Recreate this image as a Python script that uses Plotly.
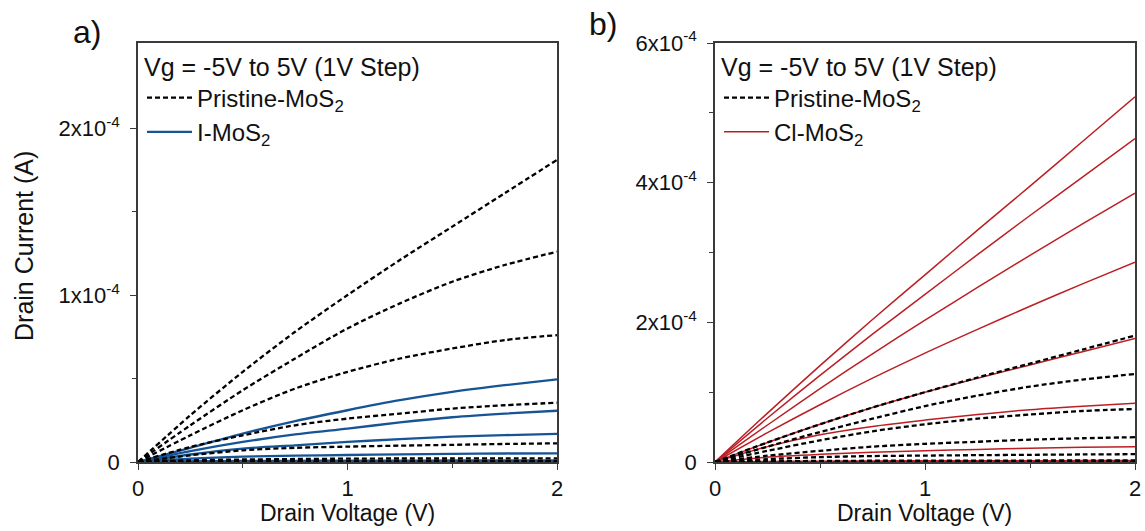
import plotly.graph_objects as go
from plotly.subplots import make_subplots

# Drain voltage sample points (V)
vd = [0, 0.25, 0.5, 0.75, 1.0, 1.25, 1.5, 1.75, 2.0]

# Pristine MoS2 drain current (units of 1e-4 A), Vg = 5V ... -5V
pristine_5 = [0, 0.28, 0.54, 0.78, 1.00, 1.21, 1.41, 1.61, 1.81]
pristine_4 = [0, 0.22, 0.43, 0.62, 0.80, 0.95, 1.08, 1.18, 1.26]
pristine_3 = [0, 0.16, 0.31, 0.44, 0.54, 0.62, 0.68, 0.73, 0.76]
pristine_2 = [0, 0.09, 0.16, 0.22, 0.26, 0.29, 0.32, 0.34, 0.355]
pristine_1 = [0, 0.04, 0.07, 0.085, 0.092, 0.098, 0.103, 0.108, 0.112]
pristine_0 = [0, 0.010, 0.015, 0.018, 0.020, 0.021, 0.021, 0.022, 0.022]
pristine_m1 = [0, 0.002, 0.003, 0.004, 0.004, 0.004, 0.005, 0.005, 0.005]
pristine_m2 = [0, 0.001, 0.001, 0.001, 0.001, 0.001, 0.001, 0.001, 0.001]
pristine_m3 = [0, 0, 0, 0, 0, 0, 0, 0, 0]
pristine_m4 = [0, 0, 0, 0, 0, 0, 0, 0, 0]
pristine_m5 = [0, 0, 0, 0, 0, 0, 0, 0, 0]
pristine = [pristine_5, pristine_4, pristine_3, pristine_2, pristine_1, pristine_0,
            pristine_m1, pristine_m2, pristine_m3, pristine_m4, pristine_m5]

# I-MoS2 drain current (1e-4 A)
i_5 = [0, 0.085, 0.17, 0.245, 0.31, 0.37, 0.42, 0.46, 0.495]
i_4 = [0, 0.065, 0.12, 0.165, 0.20, 0.237, 0.268, 0.29, 0.307]
i_3 = [0, 0.045, 0.08, 0.10, 0.12, 0.137, 0.152, 0.161, 0.168]
i_2 = [0, 0.02, 0.032, 0.038, 0.042, 0.046, 0.049, 0.051, 0.052]
i_1 = [0, 0.004, 0.006, 0.007, 0.008, 0.008, 0.009, 0.009, 0.009]
i_0 = [0, 0.001, 0.001, 0.001, 0.001, 0.001, 0.001, 0.001, 0.001]
i_m1 = [0, 0, 0, 0, 0, 0, 0, 0, 0]
i_m2 = [0, 0, 0, 0, 0, 0, 0, 0, 0]
i_m3 = [0, 0, 0, 0, 0, 0, 0, 0, 0]
i_m4 = [0, 0, 0, 0, 0, 0, 0, 0, 0]
i_m5 = [0, 0, 0, 0, 0, 0, 0, 0, 0]
i_mos2 = [i_5, i_4, i_3, i_2, i_1, i_0, i_m1, i_m2, i_m3, i_m4, i_m5]

# Cl-MoS2 drain current (1e-4 A)
cl_5 = [0, 0.70, 1.38, 2.04, 2.68, 3.32, 3.95, 4.59, 5.23]
cl_4 = [0, 0.63, 1.24, 1.83, 2.40, 2.97, 3.53, 4.08, 4.63]
cl_3 = [0, 0.53, 1.05, 1.55, 2.03, 2.50, 2.96, 3.41, 3.85]
cl_2 = [0, 0.42, 0.82, 1.20, 1.56, 1.90, 2.23, 2.55, 2.86]
cl_1 = [0, 0.28, 0.54, 0.78, 1.00, 1.20, 1.39, 1.58, 1.77]
cl_0 = [0, 0.22, 0.39, 0.51, 0.60, 0.68, 0.75, 0.80, 0.84]
cl_m1 = [0, 0.07, 0.11, 0.14, 0.16, 0.18, 0.196, 0.21, 0.22]
cl_m2 = [0, 0.008, 0.012, 0.015, 0.017, 0.018, 0.019, 0.02, 0.02]
cl_m3 = [0, 0.001, 0.002, 0.002, 0.002, 0.002, 0.002, 0.002, 0.002]
cl_m4 = [0, 0, 0, 0, 0, 0, 0, 0, 0]
cl_m5 = [0, 0, 0, 0, 0, 0, 0, 0, 0]
cl_mos2 = [cl_5, cl_4, cl_3, cl_2, cl_1, cl_0, cl_m1, cl_m2, cl_m3, cl_m4, cl_m5]

SCALE = 1e-4

x_ticks = [0, 1, 2]
x_ticklabels = ["0", "1", "2"]
ya_ticks = [0, 1e-4, 2e-4]
ya_ticklabels = ["0", "1x10<sup>-4</sup>", "2x10<sup>-4</sup>"]
yb_ticks = [0, 2e-4, 4e-4, 6e-4]
yb_ticklabels = ["0", "2x10<sup>-4</sup>", "4x10<sup>-4</sup>", "6x10<sup>-4</sup>"]

FONT = "Arial, Liberation Sans, sans-serif"
BLUE = "#165496"
RED = "#bb1f24"
AXC = "#3a3a3a"
TXT = "#111111"

W, H = 1145, 531
# plot area in pixels: x 138..1135, y 43..462
ML, MR, MT, MB = 138, 10, 43, 69
PW = W - ML - MR
PH = H - MT - MB


def px_x(px):
    return (px - ML) / PW


def px_y(py):
    return (H - MB - py) / PH


fig = make_subplots(rows=1, cols=2)


def add_group(col, curves, color, width, dash, name, legend, rank):
    for k, c in enumerate(curves):
        fig.add_trace(go.Scatter(
            x=vd, y=[v * SCALE for v in c], mode="lines",
            line=dict(color=color, width=width, dash=dash, shape="spline", smoothing=0.8),
            name=name, legend=legend, legendrank=rank,
            showlegend=(k == 0), hoverinfo="skip"),
            row=1, col=col)


# panel a
add_group(1, i_mos2, BLUE, 2.3, "solid", "I-MoS<sub>2</sub>", "legend", 2)
add_group(1, pristine, "black", 2.3, "5px,3px", "Pristine-MoS<sub>2</sub>", "legend", 1)
# panel b
add_group(2, cl_mos2, RED, 1.5, "solid", "Cl-MoS<sub>2</sub>", "legend2", 2)
add_group(2, pristine, "black", 2.3, "5px,3px", "Pristine-MoS<sub>2</sub>", "legend2", 1)

axis_common = dict(showline=True, linecolor=AXC, linewidth=1.5, mirror=True,
                   ticks="outside", ticklen=6, tickwidth=1.2, tickcolor=AXC,
                   showgrid=False, zeroline=False, automargin=False,
                   tickfont=dict(family=FONT, size=22, color=TXT))

fig.update_xaxes(**axis_common, range=[0, 2], tickvals=x_ticks, ticktext=x_ticklabels,
                 minor=dict(tickvals=[0.5, 1.5], ticks="outside", ticklen=4, tickcolor=AXC))
fig.update_xaxes(domain=[0, px_x(557)], row=1, col=1)
fig.update_xaxes(domain=[px_x(715), 1], row=1, col=2)

fig.update_yaxes(**axis_common, ticklabelstandoff=6)
fig.update_yaxes(range=[0, 2.51e-4], tickvals=ya_ticks, ticktext=ya_ticklabels,
                 minor=dict(tickvals=[0.5e-4, 1.5e-4], ticks="outside", ticklen=4, tickcolor=AXC),
                 domain=[0, 1], row=1, col=1)
fig.update_yaxes(range=[0, 6e-4], tickvals=yb_ticks, ticktext=yb_ticklabels,
                 minor=dict(tickvals=[1e-4, 3e-4, 5e-4], ticks="outside", ticklen=4, tickcolor=AXC),
                 domain=[0, 1], row=1, col=2)

leg_common = dict(bgcolor="rgba(0,0,0,0)", borderwidth=0, xanchor="left", yanchor="top",
                  xref="container", yref="container",
                  font=dict(family=FONT, size=24, color=TXT), traceorder="normal",
                  tracegroupgap=0, itemwidth=45)
leg_title = dict(text="Vg = -5V to 5V (1V Step)", side="top",
                 font=dict(family=FONT, size=25, color=TXT))


def ann(text, x, y, size, angle=0):
    return dict(text=text, x=px_x(x), y=px_y(y), xref="paper", yref="paper",
                showarrow=False, textangle=angle,
                font=dict(family=FONT, size=size, color=TXT),
                xanchor="center", yanchor="middle")


fig.update_layout(
    width=W, height=H,
    margin=dict(l=ML, r=MR, t=MT, b=MB, autoexpand=False),
    paper_bgcolor="white", plot_bgcolor="white",
    legend=dict(**leg_common, x=142 / W, y=(H - 43) / H, title=leg_title),
    legend2=dict(**leg_common, x=719 / W, y=(H - 43) / H, title=leg_title),
    annotations=[
        ann("a)", 87, 32, 32),
        ann("b)", 603, 24, 32),
        ann("Drain Voltage (V)", 347, 513, 23),
        ann("Drain Voltage (V)", 924, 513, 23),
        ann("Drain Current (A)", 24, 246, 25, angle=-90),
    ],
)

fig.write_html("out.html", config={"displayModeBar": False})
